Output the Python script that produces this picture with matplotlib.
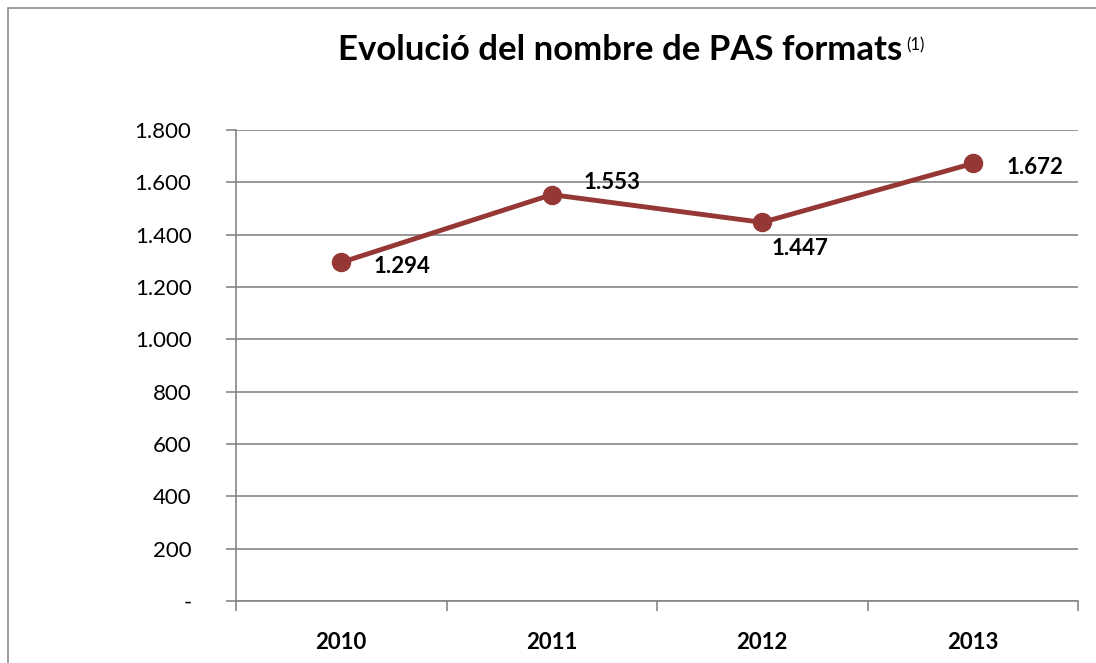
import numpy as np
import matplotlib.pyplot as plt
from matplotlib.patches import Rectangle
from matplotlib.ticker import FuncFormatter

# Dades
years = ['2010', '2011', '2012', '2013']
pas_formats = [1294, 1553, 1447, 1672]
label_offsets = [(23, -3), (23, 9), (7, -19), (24, -3)]

plt.rcParams['font.family'] = ['Lato', 'DejaVu Sans']

fig = plt.figure(figsize=(10.96, 6.63), dpi=100)
ax = fig.add_axes([236 / 1096, 1 - 601 / 663, (1078 - 236) / 1096, (601 - 130) / 663])

# Marc exterior del gràfic
fig.patches.append(Rectangle((8 / 1096, -0.1), 1.2, 1 - 8 / 663 + 0.1, transform=fig.transFigure,
                             fill=False, edgecolor='#8c8c8c', linewidth=1.2))

x = np.arange(len(years))
ax.plot(x, pas_formats, color='#953735', linewidth=3.5, marker='o',
        markersize=13, markerfacecolor='#953735', markeredgecolor='#953735', zorder=3)

for xi, v, off in zip(x, pas_formats, label_offsets):
    ax.annotate(f'{v:,}'.replace(',', '.'), (xi, v), xytext=off, textcoords='offset points',
                ha='left', va='center', fontsize=16, fontweight='bold')

ax.set_xlim(-0.5, len(years) - 0.5)
ax.set_ylim(0, 1800)
ax.set_yticks(np.arange(0, 1801, 200))
ax.yaxis.set_major_formatter(FuncFormatter(lambda v, p: '-' if v == 0 else f'{int(v):,}'.replace(',', '.')))
ax.grid(axis='y', color='#868686', linewidth=1.2)
ax.set_axisbelow(True)

ax.set_xticks(np.arange(-0.5, len(years), 1))
ax.set_xticklabels([])
ax.set_xticks(x, minor=True)
ax.set_xticklabels(years, minor=True, fontsize=16, fontweight='bold')
ax.tick_params(axis='x', which='minor', length=0, pad=22)
ax.tick_params(axis='x', which='major', length=7, color='#868686', width=1.2)
ax.tick_params(axis='y', length=7, color='#868686', width=1.2, labelsize=16, pad=25)

for s in ['top', 'right']:
    ax.spines[s].set_visible(False)
for s in ['left', 'bottom']:
    ax.spines[s].set_color('#868686')
    ax.spines[s].set_linewidth(1.2)

fig.text(0.566, 0.925, 'Evolució del nombre de PAS formats', ha='center', va='center',
         fontsize=25, fontweight='bold')
fig.text(0.827, 0.932, '(1)', ha='left', va='center', fontsize=12)

fig.savefig('out.png', dpi=100)
